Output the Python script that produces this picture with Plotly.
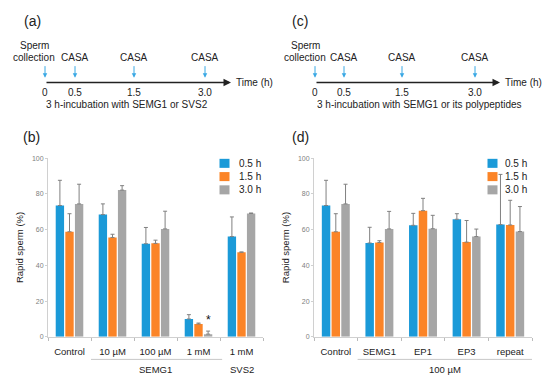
import plotly.graph_objects as go

# ---------------- data ----------------
series_names = ["0.5 h", "1.5 h", "3.0 h"]
series_colors = ["#1b9ad8", "#fb8427", "#a6a6a6"]

b_categories = ["Control", "10 µM", "100 µM", "1 mM", "1 mM"]
b_values = {
    "0.5 h": [73.5, 68.4, 52.1, 10.0, 56.1],
    "1.5 h": [58.8, 55.6, 52.3, 7.2, 47.3],
    "3.0 h": [74.4, 82.1, 60.4, 1.5, 69.0],
}
b_err_top = {
    "0.5 h": [87.6, 74.4, 61.2, 12.4, 67.1],
    "1.5 h": [68.9, 57.4, 54.1, 7.7, 47.5],
    "3.0 h": [85.4, 84.6, 70.3, 3.2, 69.3],
}

d_categories = ["Control", "SEMG1", "EP1", "EP3", "repeat"]
d_values = {
    "0.5 h": [73.5, 52.5, 62.4, 65.8, 62.8],
    "1.5 h": [58.8, 52.8, 70.6, 53.0, 62.6],
    "3.0 h": [74.4, 60.4, 60.5, 56.1, 58.9],
}
d_err_top = {
    "0.5 h": [87.6, 61.3, 69.1, 68.9, 90.9],
    "1.5 h": [68.9, 53.8, 77.5, 65.1, 76.4],
    "3.0 h": [85.4, 70.2, 68.0, 60.3, 72.9],
}

yticks = [0, 20, 40, 60, 80, 100]
time_labels = ["0", "0.5", "1.5", "3.0"]

W, H = 550, 384
FONT = "Liberation Sans, Arial, sans-serif"
TXT = "#222222"


def px(x):
    return x / W


def py(y):
    return 1 - y / H


fig = go.Figure()

# ---------------- bars ----------------
for panel, (cats, vals, errs) in enumerate(
    [(b_categories, b_values, b_err_top), (d_categories, d_values, d_err_top)]
):
    xa = "x" if panel == 0 else "x2"
    ya = "y" if panel == 0 else "y2"
    idx = list(range(len(cats)))
    for name, color in zip(series_names, series_colors):
        v = vals[name]
        e = [t - s for t, s in zip(errs[name], v)]
        fig.add_trace(
            go.Bar(
                x=idx,
                y=v,
                name=name,
                marker=dict(color=color, line=dict(width=0)),
                error_y=dict(
                    type="data",
                    symmetric=False,
                    array=e,
                    arrayminus=[0] * len(v),
                    color="#808080",
                    thickness=1,
                    width=2,
                ),
                xaxis=xa,
                yaxis=ya,
                showlegend=False,
                hoverinfo="skip",
            )
        )

xdom_b = [px(48), px(263)]
xdom_d = [px(314), px(532)]
ydom = [py(339), py(157)]

common_x = dict(
    tickmode="array",
    ticks="",
    showline=True,
    linecolor="#d0d0d0",
    linewidth=1,
    showgrid=False,
    zeroline=False,
    range=[-0.5, 4.5],
    tickfont=dict(family=FONT, size=9.5, color=TXT),
    ticklabelstandoff=6,
    minor=dict(ticks="outside", tick0=0.5, dtick=1, ticklen=3, tickcolor="#bbbbbb"),
)
common_y = dict(
    range=[0, 100],
    tickvals=yticks,
    ticks="outside",
    ticklen=2,
    tickcolor="#d0d0d0",
    showline=True,
    linecolor="#d0d0d0",
    linewidth=1,
    showgrid=False,
    zeroline=False,
    tickfont=dict(family=FONT, size=7, color="#808080"),
    title=dict(text="Rapid sperm (%)", font=dict(family=FONT, size=9.5, color=TXT), standoff=6),
)

fig.update_layout(
    width=W,
    height=H,
    margin=dict(l=0, r=0, t=0, b=0),
    paper_bgcolor="white",
    plot_bgcolor="white",
    barmode="group",
    bargap=0.33,
    bargroupgap=0.13,
    showlegend=False,
    xaxis=dict(domain=xdom_b, anchor="y", tickvals=list(range(len(b_categories))),
               ticktext=b_categories, **common_x),
    yaxis=dict(domain=ydom, anchor="x", **common_y),
    xaxis2=dict(domain=xdom_d, anchor="y2", tickvals=list(range(len(d_categories))),
                ticktext=d_categories, **common_x),
    yaxis2=dict(domain=ydom, anchor="x2", **common_y),
)

shapes = []
ann = []


def text(x, y, s, size=9.5, xanchor="center", color=TXT, **kw):
    ann.append(dict(x=px(x), y=py(y), xref="paper", yref="paper", text=s, showarrow=False,
                    xanchor=xanchor, yanchor="middle",
                    font=dict(family=FONT, size=size, color=color), **kw))


# group lines and labels under axes
shapes.append(dict(type="line", xref="x", yref="paper", x0=0.5, x1=3.55, y0=py(362), y1=py(362),
                   line=dict(color="#c8c8c8", width=1)))
shapes.append(dict(type="line", xref="x2", yref="paper", x0=0.5, x1=4.5, y0=py(362), y1=py(362),
                   line=dict(color="#c8c8c8", width=1)))
for xr, xv, lab in [("x", 2, "SEMG1"), ("x", 4, "SVS2"), ("x2", 2.5, "100 µM")]:
    ann.append(dict(x=xv, y=py(372.5), xref=xr, yref="paper", text=lab, showarrow=False,
                    xanchor="center", yanchor="middle",
                    font=dict(family=FONT, size=9.5, color=TXT)))

# asterisk above 1 mM SEMG1 3.0 h bar
ann.append(dict(x=3, y=b_err_top["3.0 h"][3] + 6, xref="x", yref="y", xshift=9.6, text="*",
                showarrow=False, xanchor="center", yanchor="middle",
                font=dict(family=FONT, size=12, color="#111111")))

# manual legends
for lx, tx in [(219.5, 237), (487.5, 503)]:
    for i, (name, color) in enumerate(zip(series_names, series_colors)):
        cy = 162.3 + i * 13.5
        shapes.append(dict(type="rect", xref="paper", yref="paper",
                           x0=px(lx), x1=px(lx + 10), y0=py(cy - 4.6), y1=py(cy + 4.6),
                           fillcolor=color, line=dict(width=0)))
        text(tx, cy, name, size=10, xanchor="left")

# panel labels
text(32, 17, "(a)", size=14)
text(300, 17, "(c)", size=14)
text(31.5, 135, "(b)", size=14)
text(300, 135, "(d)", size=14)

# timelines
TL = 10
for (x0, tip, evx, coll_x, sub_x, sub) in [
    (45, 231, [45, 75, 134, 205], 34, 127, "3 h-incubation with SEMG1 or SVS2"),
    (315, 500, [315, 344, 402, 475], 305, 419, "3 h-incubation with SEMG1 or its polypeptides"),
]:
    ann.append(dict(x=px(tip), y=py(80), xref="paper", yref="paper", ax=x0 - tip, ay=0,
                    axref="pixel", ayref="pixel", text="", showarrow=True,
                    arrowhead=2, arrowsize=1, arrowwidth=1.5, arrowcolor="#222222"))
    for i, ex in enumerate(evx):
        ann.append(dict(x=px(ex), y=py(75), xref="paper", yref="paper", ax=0, ay=-13,
                        text="", showarrow=True, arrowhead=2, arrowsize=0.9, arrowwidth=1,
                        arrowcolor="#3aa8e4"))
        text(ex, 90, time_labels[i], size=TL)
        if i > 0:
            text(ex, 54, "CASA", size=TL)
    text(coll_x, 42, "Sperm", size=TL)
    text(coll_x, 54, "collection", size=TL)
    text(tip + 3, 80, "Time (h)", size=TL, xanchor="left")
    text(sub_x, 102, sub, size=10)

fig.update_layout(shapes=shapes, annotations=ann)
fig.write_html(
    "out.html",
    config={"displayModeBar": False},
    post_script="document.body.style.margin='0';document.body.style.overflow='hidden';",
)
